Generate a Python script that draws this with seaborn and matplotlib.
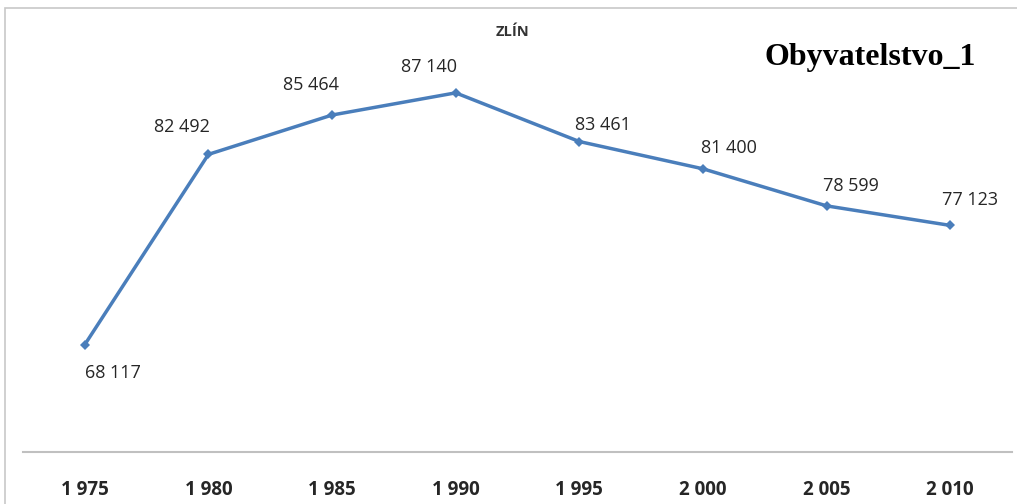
import pandas as pd
import matplotlib.pyplot as plt
import seaborn as sns
from matplotlib.patches import Rectangle

# data
years = ["1 975", "1 980", "1 985", "1 990", "1 995", "2 000", "2 005", "2 010"]
population = [68117, 82492, 85464, 87140, 83461, 81400, 78599, 77123]
labels = ["68 117", "82 492", "85 464", "87 140", "83 461", "81 400", "78 599", "77 123"]

df = pd.DataFrame({"Rok": years, "Obyvatelstvo": population})

sns.set_style("white")
plt.rcParams["font.family"] = ["Open Sans", "DejaVu Sans"]

fig = plt.figure(figsize=(10.17, 5.04), dpi=100)
ax = fig.add_axes([23 / 1017, 52 / 504, 989 / 1017, 397 / 504])

sns.lineplot(data=df, x="Rok", y="Obyvatelstvo", ax=ax, color="#4a7ebb",
             linewidth=2.5, marker="D", markersize=5, markeredgewidth=0, sort=False)

ax.set_xlim(-0.5, len(years) - 0.5)
ax.set_ylim(60000, 90000)

# label offsets in pixels
offsets = [(28, -28), (-26, 27), (-21, 30), (-27, 26), (24, 17), (26, 21), (24, 20), (20, 25)]
for i, (val, lab) in enumerate(zip(population, labels)):
    ax.annotate(lab, (i, val), xytext=offsets[i], textcoords="offset pixels",
                ha="center", va="center", fontsize=13, color="#262626")

ax.set_yticks([])
ax.set_xlabel("")
ax.set_ylabel("")
ax.tick_params(axis="x", length=0, pad=20)
for t in ax.get_xticklabels():
    t.set_fontweight("bold")
    t.set_fontsize(13.5)
    t.set_color("#262626")

for s in ["top", "right", "left"]:
    ax.spines[s].set_visible(False)
ax.spines["bottom"].set_color("#c0c0c0")
ax.spines["bottom"].set_linewidth(1.5)

# outer chart frame (left and top edges visible)
fig.patches.append(Rectangle((5 / 1017, -0.1), 1.2, (504 - 8) / 504 + 0.1,
                             transform=fig.transFigure, fill=False,
                             edgecolor="#c8c8c8", linewidth=1.2))

fig.text(513 / 1017, 1 - 32 / 504, "ZLÍN", ha="center", va="center",
         fontsize=10.5, fontweight="bold", color="#333333")
fig.text(870 / 1017, 1 - 57 / 504, "Obyvatelstvo_1", ha="center", va="center",
         fontsize=23, fontweight="bold", family="Liberation Serif", color="black")

fig.savefig("out.png", dpi=100)
